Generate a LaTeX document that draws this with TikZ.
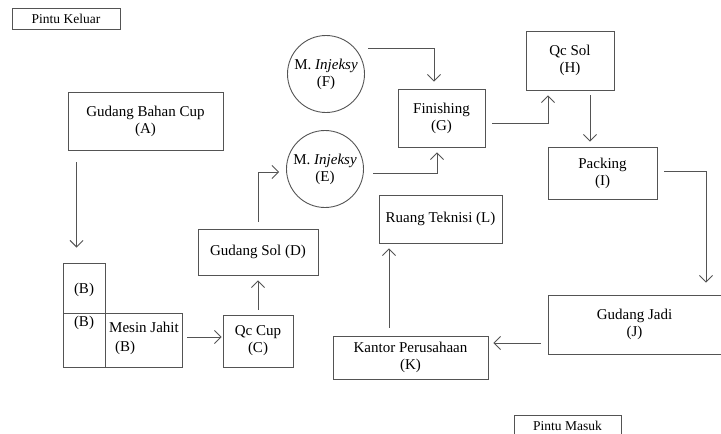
\documentclass[tikz,border=0pt]{standalone}
\usepackage{fontspec}
\setmainfont{Liberation Serif}
\usetikzlibrary{arrows.meta}
\newcommand\planfont{\fontsize{15}{17}\selectfont}
\newcommand\doorfont{\fontsize{13.5}{15}\selectfont}
\definecolor{linegray}{gray}{0.33}
\begin{document}
\begin{tikzpicture}[x=1pt,y=-1pt,
  room/.style={draw=linegray, line width=0.9pt, rectangle, inner sep=0pt,
    align=center, font=\planfont},
  machine/.style={draw=linegray, line width=0.9pt, circle, inner sep=0pt,
    minimum size=77pt, align=center, font=\planfont},
  door/.style={draw=linegray, line width=0.9pt, rectangle, inner sep=0pt,
    font=\doorfont},
  label/.style={inner sep=0pt, font=\planfont, align=left},
  flow/.style={draw=linegray, line width=0.9pt,
    -{Straight Barb[length=6.5pt,width=13pt]}}]
\useasboundingbox (0,0) rectangle (721,434);

% doors
\node[door, minimum width=108, minimum height=21] (exit) at (66,18.5) {Pintu Keluar};
\node[door, minimum width=107, minimum height=30] (entry) at (567.5,430) {};
\node[inner sep=0pt, font=\doorfont] (entrytext) at (567.5,426) {Pintu Masuk};

% raw material store
\node[room, minimum width=155, minimum height=58] (A) at (145.5,121) {Gudang Bahan Cup\\(A)};

% sewing machines
\node[room, minimum width=42, minimum height=50] (B1) at (84,288) {};
\node[room, minimum width=42, minimum height=54] (B2) at (84,340) {};
\node[room, minimum width=77, minimum height=54] (MJ) at (143.5,340) {};
\node[label] (b1t) at (84,290) {(B)};
\node[label] (b2t) at (84,323) {(B)};
\node[label, anchor=north west, font=\fontsize{15}{19}\selectfont] (mjt) at (109,322)
  {Mesin Jahit\\\hspace{6pt}(B)};

% quality control and sole store
\node[room, minimum width=70, minimum height=52] (C) at (258,341) {Qc Cup\\(C)};
\node[room, minimum width=120, minimum height=46] (D) at (258,252) {Gudang Sol (D)};

% injection machines
\node[machine] (E) at (325,169) {M. \textit{Injeksy}\\(E)};
\node[machine] (F) at (326,74) {M. \textit{Injeksy}\\(F)};

% finishing line
\node[room, minimum width=87, minimum height=58] (G) at (441.5,118) {Finishing\\(G)};
\node[room, minimum width=88, minimum height=59] (H) at (570,60.5) {Qc Sol\\(H)};
\node[room, minimum width=109, minimum height=52] (I) at (602.5,173) {Packing\\(I)};
\node[room, minimum width=173, minimum height=59] (J) at (634.5,324.5) {Gudang Jadi\\(J)};
\node[room, minimum width=155, minimum height=43] (K) at (410.5,357.5) {Kantor Perusahaan\\(K)};
\node[room, minimum width=123, minimum height=48] (L) at (440.5,219) {Ruang Teknisi (L)};

% material flow
\draw[flow] ([xshift=9pt,yshift=-12pt]A.south west) -- ([xshift=14pt,yshift=15pt]B1.north west);
\draw[flow] ([xshift=5pt,yshift=3pt]MJ.east) -- ([xshift=-1pt,yshift=4pt]C.west);
\draw[flow] ([yshift=5pt]C.north) -- ([yshift=-5pt]D.south);
\draw[flow] ([yshift=7pt]D.north) |- ([xshift=-7pt,yshift=-3pt]E.west);
\draw[flow] ([xshift=42pt,yshift=26pt]F.center) -| ([xshift=-7.5pt,yshift=7pt]G.north);
\draw[flow] ([xshift=48pt,yshift=-4pt]E.center) -| ([xshift=-4.5pt,yshift=-5pt]G.south);
\draw[flow] ([xshift=7pt,yshift=-5pt]G.east) -| ([xshift=-22pt,yshift=-5pt]H.south);
\draw[flow] ([xshift=20pt,yshift=-5pt]H.south) -- ([xshift=-12.5pt,yshift=5pt]I.north);
\draw[flow] ([xshift=7pt,yshift=2pt]I.east) -| ([xshift=71.5pt,yshift=12pt]J.north);
\draw[flow] ([xshift=-7pt,yshift=-18.5pt]J.west) -- ([xshift=5pt,yshift=-18.5pt]J.west -| K.east);
\draw[flow] ([xshift=-21.5pt,yshift=8pt]K.north) -- ([xshift=-51.5pt,yshift=-5pt]L.south);
\end{tikzpicture}
\end{document}
